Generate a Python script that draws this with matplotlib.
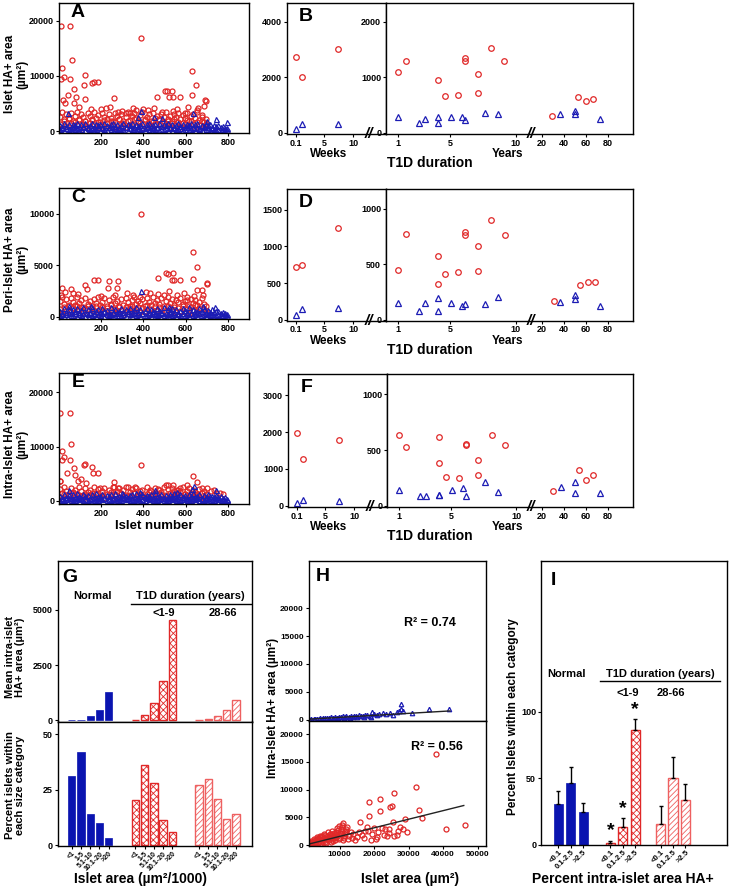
import numpy as np
import matplotlib
matplotlib.use("Agg")
import matplotlib.pyplot as plt
from matplotlib.lines import Line2D

plt.rcParams['font.family'] = ['Liberation Sans', 'DejaVu Sans']
plt.rcParams['font.weight'] = 'bold'
plt.rcParams['axes.linewidth'] = 1.0
plt.rcParams['hatch.linewidth'] = 0.6

RED = '#e02828'
BLUE = '#1c1cb4'
BARBLUE = '#0a14b0'

# ---------------- data: islet scatter (A, C, E) ----------------
islet_grid = list(range(5, 800, 10))   # islet numbers for the dense band

a_red1 = [2600, 3400, 2100, 3000, 2400, 3300, 1900, 2800, 3500, 2200,
          3100, 2500, 1800, 3300, 2700, 2000, 3400, 2300, 2900, 1700,
          3200, 2600, 2100, 3000, 2400, 1900, 3300, 2800, 2200, 3100,
          1800, 2500, 3400, 2000, 2700, 3200, 2300, 1900, 2900, 3500,
          2100, 2600, 3000, 1800, 3300, 2400, 2800, 2000, 3100, 2500,
          3400, 2200, 2700, 1900, 3000, 2600, 3300, 2100, 2900, 2400,
          3200, 1800, 2700, 3000, 2300, 3400, 2000, 2600, 1700, 2200]
a_red2 = [1200, 600, 1800, 900, 2100, 1400, 700, 1600, 1000, 2000,
          500, 1300, 1900, 800, 1500, 2200, 1100, 600, 1700, 1300,
          900, 2000, 1400, 700, 1800, 1100, 1600, 500, 2100, 1200,
          1500, 800, 1900, 1000, 1300, 2200, 700, 1700, 1400, 600,
          2000, 1100, 1500, 900, 1800, 1300, 600, 2100, 1000, 1600,
          1200, 1900, 800, 1400, 2200, 1000, 1700, 700, 1500, 1200,
          2000, 900, 1800, 1300, 600, 1600, 1100, 1900, 800, 1300]
a_red_out_x = [10, 54, 387, 60, 13, 11, 22, 52, 73, 81, 121, 117, 157, 168, 186, 125, 260, 629, 648, 629,
               692, 696, 502, 513, 533, 522, 541, 573, 462, 41, 30, 17, 73, 97, 224, 279, 319, 335, 367, 422,
               489, 541, 597, 652, 676, 687, 150, 200, 240, 300, 350, 400, 450, 560, 610, 660]
a_red_out_y = [19000, 19000, 16800, 12800, 11500, 9400, 9850, 9400, 7550, 6200, 10100, 8300, 8750, 8800, 8800, 5800, 6050, 10900, 8300, 6450,
               5700, 5500, 7250, 7250, 7250, 6100, 6100, 6200, 6150, 6500, 5000, 5600, 5000, 4400, 4100, 3500, 3200, 3200, 3800, 3800,
               3500, 3600, 3300, 3800, 2900, 4500, 4000, 3900, 4300, 3700, 4100, 3900, 4200, 4000, 4300, 4100]
a_blue1 = [1100, 700, 1500, 900, 1300, 600, 1200, 1000, 1400, 800,
           1300, 900, 1500, 700, 1100, 1400, 600, 1200, 1000, 1300,
           800, 1400, 1100, 700, 1200, 1500, 900, 1300, 600, 1000,
           1400, 800, 1200, 1100, 1500, 700, 1300, 900, 1000, 1400,
           600, 1200, 1500, 800, 1100, 1300, 700, 1400, 900, 1200,
           1000, 1500, 800, 1300, 600, 1100, 1400, 900, 1200, 700,
           1300, 1000, 1500, 800, 1200, 1400, 600, 1100, 900, 1300,
           1000, 1200, 800, 1100, 900, 1000, 700, 900, 600, 500]
a_blue2 = [300, 500, 150, 600, 400, 250, 700, 350, 550, 100,
           450, 650, 200, 500, 300, 600, 150, 400, 700, 250,
           550, 350, 100, 650, 450, 200, 500, 300, 600, 400,
           150, 700, 250, 550, 350, 450, 100, 600, 300, 500,
           200, 650, 400, 150, 550, 300, 700, 250, 450, 350,
           600, 100, 500, 200, 650, 400, 300, 550, 150, 450,
           700, 250, 350, 600, 200, 500, 400, 100, 650, 300,
           450, 200, 550, 350, 250, 400, 150, 300, 200, 100]
a_blue_out_x = [44, 390, 451, 636, 744, 795, 700, 375, 490]
a_blue_out_y = [3200, 3600, 2600, 3300, 2200, 1600, 1900, 2500, 2300]

c_red1 = [1500, 1900, 1200, 1700, 1000, 1800, 1400, 1100, 1900, 1300,
          1600, 900, 1800, 1200, 1500, 1000, 1700, 1300, 1900, 1100,
          1400, 1800, 1000, 1600, 1200, 1900, 1300, 1500, 900, 1700,
          1100, 1800, 1400, 1000, 1600, 1900, 1200, 1500, 1300, 1700,
          1000, 1800, 1400, 1100, 1900, 1300, 1600, 1200, 1800, 1000,
          1500, 1900, 1300, 1700, 1100, 1600, 1400, 1800, 1200, 1500,
          1900, 1000, 1700, 1300, 1600, 1100, 1400, 1800, 1200, 1000]
c_red2 = [700, 400, 950, 600, 1100, 500, 850, 300, 1000, 650,
          900, 450, 750, 1050, 350, 800, 550, 1000, 400, 700,
          950, 500, 850, 300, 1100, 600, 750, 450, 1000, 650,
          350, 900, 550, 800, 1050, 400, 700, 950, 500, 850,
          600, 1100, 300, 750, 450, 1000, 650, 900, 350, 800,
          550, 1050, 400, 700, 950, 500, 850, 600, 1000, 450,
          750, 300, 900, 650, 1100, 550, 800, 400, 700, 500]
c_red_out_x = [390, 633, 652, 633, 467, 505, 517, 541, 533, 544, 573, 184, 165, 235, 232, 279, 275, 263, 125, 132,
               13, 57, 65, 10, 652, 676, 700, 700, 684, 430, 382, 557, 605, 495, 30, 90, 200, 320, 350, 410,
               470, 520, 590, 640]
c_red_out_y = [10000, 6300, 4820, 3700, 3800, 4200, 4150, 4200, 3550, 3550, 3550, 3550, 3550, 3500, 2750, 3500, 2750, 2150, 3050, 2650,
               2750, 2650, 2300, 2100, 2600, 2600, 3300, 3200, 2100, 2350, 1950, 2100, 1600, 2100, 2400, 2200, 2000, 2300, 2100, 2400,
               2200, 2500, 2300, 2000]
c_blue1 = [600, 400, 850, 500, 750, 350, 700, 550, 800, 450,
           650, 900, 400, 700, 500, 850, 350, 600, 750, 450,
           800, 550, 650, 400, 900, 500, 700, 350, 600, 850,
           450, 750, 550, 800, 400, 650, 900, 500, 700, 350,
           600, 850, 450, 750, 550, 400, 800, 650, 500, 900,
           350, 700, 600, 850, 450, 750, 400, 550, 800, 650,
           500, 900, 350, 700, 600, 450, 850, 550, 750, 400,
           650, 500, 700, 450, 600, 550, 400, 500, 350, 300]
c_blue2 = [150, 300, 80, 250, 350, 120, 200, 400, 60, 280,
           180, 330, 100, 220, 380, 140, 260, 50, 310, 190,
           360, 90, 240, 130, 290, 400, 70, 210, 340, 160,
           270, 110, 390, 230, 60, 320, 170, 250, 100, 370,
           200, 140, 300, 80, 350, 220, 120, 280, 400, 180,
           60, 260, 330, 150, 240, 90, 310, 200, 370, 130,
           280, 50, 350, 170, 230, 110, 320, 190, 260, 80,
           300, 140, 220, 100, 180, 250, 120, 200, 90, 60]
c_blue_out_x = [390, 152, 684, 49, 520, 740]
c_blue_out_y = [2500, 1000, 1050, 1000, 900, 950]

e_red1 = [2200, 1500, 2600, 1800, 1200, 2400, 1600, 2100, 1300, 2500,
          1900, 1100, 2300, 1700, 2000, 1400, 2600, 1500, 2200, 1000,
          1800, 2400, 1300, 2100, 1600, 2500, 1200, 1900, 2300, 1400,
          2000, 1100, 2600, 1700, 2200, 1500, 2400, 1300, 1800, 2100,
          1000, 2500, 1600, 1900, 1200, 2300, 1400, 2000, 1700, 2600,
          1100, 2200, 1500, 2400, 1800, 1300, 2100, 1600, 2500, 1200,
          1900, 2300, 1400, 2000, 1700, 1100, 2200, 1500, 1800, 1300]
e_red2 = [800, 400, 1200, 600, 1000, 300, 1400, 700, 500, 1100,
          900, 200, 1300, 650, 1050, 450, 850, 1250, 350, 750,
          1150, 550, 950, 250, 1350, 600, 1000, 400, 800, 1200,
          500, 900, 300, 1100, 700, 1400, 450, 850, 1050, 250,
          650, 1250, 550, 950, 350, 1150, 750, 200, 1300, 600,
          1000, 400, 800, 1200, 500, 900, 300, 1100, 700, 1350,
          450, 850, 1050, 250, 650, 1250, 550, 950, 350, 750]
e_red_out_x = [5, 54, 12, 24, 16, 59, 51, 70, 38, 76, 125, 120, 157, 163, 187, 105, 129, 260, 260, 387,
               633, 652, 505, 517, 541, 573, 319, 359, 279, 467, 700, 764, 4, 7, 89, 192, 605, 676, 732, 720,
               745, 778, 430, 560]
e_red_out_y = [16200, 16200, 9250, 8100, 7600, 10400, 7500, 6000, 5100, 4800, 6800, 6600, 6300, 5100, 5100, 4000, 3250, 3550, 2650, 6700,
               4500, 3450, 2950, 2950, 2950, 2450, 2650, 2650, 2300, 2200, 2450, 1550, 3700, 3600, 3600, 2300, 3000, 2300, 2000, 1800,
               1500, 1300, 2000, 2100]
e_blue1 = [900, 600, 1300, 800, 1100, 500, 1200, 700, 1400, 1000,
           600, 1300, 900, 1100, 500, 1200, 800, 1400, 700, 1000,
           1300, 600, 1100, 900, 1200, 500, 1400, 800, 1000, 700,
           1300, 900, 600, 1100, 1200, 800, 1400, 500, 1000, 1300,
           700, 1100, 900, 1200, 600, 1400, 800, 1000, 1300, 500,
           1100, 700, 1200, 900, 1400, 600, 1000, 1300, 800, 1100,
           500, 1200, 900, 1400, 700, 1000, 1300, 600, 1100, 800,
           1200, 900, 1000, 700, 1100, 800, 900, 600, 700, 400]
e_blue2 = [200, 450, 100, 350, 550, 250, 400, 150, 500, 300,
           600, 200, 450, 100, 350, 550, 250, 400, 150, 500,
           300, 600, 200, 450, 100, 350, 550, 250, 400, 150,
           500, 300, 600, 200, 450, 100, 350, 550, 250, 400,
           150, 500, 300, 600, 200, 450, 100, 350, 550, 250,
           400, 150, 500, 300, 600, 200, 450, 100, 350, 550,
           250, 400, 150, 500, 300, 600, 200, 450, 100, 350,
           550, 250, 400, 150, 500, 300, 200, 350, 150, 100]
e_blue_out_x = [46, 382, 456, 640, 745, 630, 300, 560]
e_blue_out_y = [2000, 1700, 2000, 2750, 2000, 2200, 1500, 1600]

# ---------------- data: T1D duration (B, D, F) ----------------
wk_red_x = [0.15, 1.1, 7.3]
wk_blue_x = [0.1, 1.1, 7.3]
b_wk_red = [2716, 2014, 3032]
b_wk_blue = [135, 305, 305]
d_wk_red = [718, 741, 1250]
d_wk_blue = [64, 150, 159]
f_wk_red = [1982, 1261, 1784]
f_wk_blue = [72, 162, 135]

yr_red_x = [1.0, 1.6, 4.1, 4.6, 5.6, 6.14, 6.14, 7.1, 7.1, 8.15, 9.15, 29.6, 53.3, 60.3, 66.4]
b_yr_red = [1090, 1294, 945, 668, 680, 1343, 1300, 1065, 711, 1535, 1300, 301, 644, 572, 608]
d_yr_red = [452, 774, 572, 413, 431, 789, 765, 663, 443, 900, 762, 172, 319, 340, 340]
f_yr_red = [638, 524, 614, 254, 251, 557, 545, 407, 272, 638, 542, 135, 323, 234, 272]
d_yr_red_x = [1.0, 1.6, 4.1, 4.6, 5.6, 6.14, 6.14, 7.13, 7.13, 8.15, 9.17, 30.9, 54.5, 62.0, 68.4]
d_yr_red_extra = [328]   # second point at 4.1 years in D
f_yr_red_extra = [380]   # second point at 4.1 years in F

yr_blue_x = [1.0, 2.6, 3.1, 4.1, 4.1, 5.1, 5.93, 6.14, 7.64, 8.63, 36.9, 50.0, 50.0, 73.0]
b_yr_blue = [289, 170, 242, 289, 175, 289, 283, 229, 350, 332, 332, 392, 332, 242]
d_yr_blue = [157, 81, 151, 196, 81, 157, 127, 142, 145, 211, 160, 226, 187, 127]
f_yr_blue = [138, 90, 90, 99, 99, 138, 159, 90, 210, 123, 171, 210, 117, 117]

# ---------------- data: G bars ----------------
size_cats = ['<1', '1-5', '5.1-10', '10.1-20', '>20']
g_mean_normal = [10, 30, 180, 450, 1270]
g_mean_short = [30, 250, 780, 1790, 4540]
g_mean_long = [10, 70, 180, 480, 920]
g_pct_normal = [31.2, 42.2, 14.0, 10.2, 3.4]
g_pct_short = [20.3, 36.2, 28.2, 11.4, 6.1]
g_pct_long = [27.0, 30.0, 21.0, 12.0, 14.0]

# ---------------- data: H scatter ----------------
h_norm_x = [1200, 1800, 2500, 3000, 3600, 4200, 4800, 5300, 5900, 6400, 7000, 7600, 8100, 8700, 9200, 9800,
            10300, 10900, 11500, 12000, 12600, 13200, 13800, 14300, 14900, 15500, 16100, 16800, 17400, 18000,
            18700, 19400, 20100, 20800, 21500, 22600, 23500, 24700, 25600, 26600, 27200, 27800, 27900, 28300,
            31000, 35800, 41600, 1500, 2800, 4000, 5600, 6800, 8400, 9500, 11200, 13000, 15000, 17000, 19000]
h_norm_y = [60, 120, 100, 200, 150, 250, 180, 300, 220, 350, 280, 400, 300, 450, 380, 520,
            420, 600, 480, 650, 520, 700, 560, 750, 600, 830, 650, 700, 800, 900,
            750, 1300, 950, 850, 1000, 1250, 1100, 1250, 900, 1300, 1600, 2000, 2800, 1500,
            1250, 1850, 1900, 20, 50, 90, 120, 160, 200, 240, 280, 330, 400, 450, 500]
h_norm_fit = (0.036, 60)        # slope, intercept
h_norm_fit_range = (1000, 42000)

h_t1d_x = [800, 1200, 1500, 1800, 2200, 2500, 2800, 3100, 3400, 3700, 4000, 4300, 4600, 4900, 5200, 5500,
           5800, 6100, 6400, 6700, 7000, 7300, 7600, 7900, 8200, 8500, 8800, 9100, 9400, 9700, 10000, 10200,
           10500, 10700, 10900, 11200, 11500, 11800, 12100, 12400, 12800, 13200, 13600, 14000, 14500, 15000,
           15500, 16000, 16500, 17000, 17500, 18000, 18300, 18600, 18600, 19000, 19500, 20000, 20500, 20800,
           21000, 21800, 21800, 22200, 22800, 23300, 23800, 24300, 24300, 24600, 25300, 25500, 25800, 25800,
           26600, 26900, 27500, 28400, 29000, 29600, 32100, 32900, 33900, 37900, 40800, 46400,
           1000, 1400, 1700, 2000, 2300, 2600, 2900, 3200, 3500, 3800, 4100, 4400, 4700, 5000, 5300, 5600,
           5900, 6200, 6500, 6800, 7100, 7400, 7700, 8000, 8300, 8600, 8900, 9200, 9500, 9800, 10100, 10400,
           10600, 10800, 11100, 11400, 11700, 12000]
h_t1d_y = [200, 500, 150, 800, 400, 1100, 300, 700, 1400, 500, 1000, 1700, 300, 800, 1300, 2000,
           600, 1100, 1600, 2300, 900, 1400, 2000, 2600, 700, 1200, 1800, 2400, 3000, 1000, 1600, 2200,
           2900, 3600, 3900, 1300, 2000, 2600, 3300, 1000, 1700, 2400, 1200, 2000, 900, 1500,
           2300, 4100, 1800, 1200, 2600, 3200, 2450, 7750, 5200, 900, 2000, 3000, 1050, 1500,
           2300, 8250, 6200, 3100, 1800, 2900, 1650, 2900, 2150, 6850, 7000, 4100, 9350, 1650,
           1850, 2600, 3300, 2850, 4700, 2300, 10550, 6400, 4900, 16350, 2850, 3650,
           100, 300, 250, 600, 200, 700, 900, 350, 1000, 1200, 600, 1400, 900, 1600, 500, 1200,
           1800, 400, 1000, 1500, 1900, 600, 1100, 1700, 2100, 900, 1400, 2000, 2700, 3400, 1200, 1900,
           2500, 3200, 900, 1700, 2300, 2900]
h_t1d_fit = (0.155, 0)
h_t1d_fit_range = (1000, 46000)

# ---------------- data: I bars ----------------
ha_cats = ['<0.1', '0.1-2.5', '>2.5']
i_normal = [30.5, 46.5, 24.5]
i_normal_err = [10, 12, 7]
i_short = [1.5, 13.5, 86]
i_short_err = [1.7, 6.7, 8.3]
i_long = [16, 50, 33.5]
i_long_err = [13, 16, 12.5]

# ---------------- layout helpers ----------------
W, H = 729, 892
fig = plt.figure(figsize=(W / 100, H / 100), dpi=100)


def box(l, t, r, b):
    return fig.add_axes([l / W, 1 - b / H, (r - l) / W, (b - t) / H])


def ftext(x, y, s, **kw):
    kw.setdefault('ha', 'center')
    kw.setdefault('va', 'center')
    fig.text(x / W, 1 - y / H, s, **kw)


def fline(x0, x1, y):
    fig.add_artist(Line2D([x0 / W, x1 / W], [1 - y / H, 1 - y / H], color='black', lw=1.0))


def style(ax, size=6.5):
    ax.tick_params(labelsize=size, length=2, width=0.8, pad=1.5)


def circles(ax, x, y, ms=3.6):
    ax.plot(x, y, 'o', mfc='none', mec=RED, ms=ms, mew=0.9, ls='none')


def triangles(ax, x, y, ms=3.6):
    ax.plot(x, y, '^', mfc='none', mec=BLUE, ms=ms, mew=0.9, ls='none')


# years axis: broken linear scale (1-10 wide, 20-80 compressed)
VB = [-10, 11.18, 20, 200]
UB = [11.7 + 13.1 * (-11), 145.06, 155.7, 155.7 + 1.1 * 180]


def fwd(v):
    return np.interp(v, VB, UB)


def inv(u):
    return np.interp(u, UB, VB)


def islet_panel(top, bot, reds, blues, red_out, blue_out, ylim, yticks, letter, ylabel):
    ax = box(59, top, 249, bot)
    n = len(reds[0])
    for r in reds:
        circles(ax, islet_grid[:n], r)
    circles(ax, red_out[0], red_out[1])
    for b in blues:
        triangles(ax, islet_grid, b)
    triangles(ax, blue_out[0], blue_out[1])
    ax.set_xlim(0, 900)
    ax.set_ylim(*ylim)
    ax.set_xticks([200, 400, 600, 800])
    ax.set_yticks(yticks)
    style(ax)
    ax.text(0.1, 0.93, letter, transform=ax.transAxes, fontsize=14, ha='center', va='center')
    ftext(154, bot + 22, 'Islet number', fontsize=9.5)
    ftext(16, (top + bot) / 2 + 6, ylabel, fontsize=8.5, rotation=90, linespacing=1.1)
    return ax


def duration_panel(top, bot, wk, yr, wk_ylim, wk_ticks, yr_ylim, yr_ticks, letter, off=0):
    axw = box(287 + off, top, 386 + off, bot)
    circles(axw, wk_red_x, wk[0], ms=4)
    triangles(axw, wk_blue_x, wk[1], ms=4)
    axw.set_xlim(-1.46, 15.7)
    axw.set_ylim(*wk_ylim)
    axw.set_xticks([0.1, 5, 10])
    axw.set_xticklabels(['0.1', '5', '10'])
    axw.set_yticks(wk_ticks)
    style(axw)
    axw.text(0.19, 0.9, letter, transform=axw.transAxes, fontsize=14, ha='center', va='center')

    axy = box(386 + off, top, 633, bot)
    axy.set_xscale('function', functions=(fwd, inv))
    circles(axy, yr[0], yr[1], ms=4)
    if len(yr) > 4:
        circles(axy, [4.1], yr[4], ms=4)
    triangles(axy, yr_blue_x, yr[2], ms=4)
    axy.set_xlim(0.107, 103)
    axy.set_ylim(*yr_ylim)
    axy.set_xticks([1, 5, 10, 20, 40, 60, 80])
    axy.set_xticklabels(['1', '5', '10', '20', '40', '60', '80'])
    axy.xaxis.set_minor_locator(matplotlib.ticker.NullLocator())
    axy.set_yticks(yr_ticks)
    style(axy)

    ftext(369 + off, bot, '//', fontsize=11, style='italic')
    ftext(531, bot, '//', fontsize=11, style='italic')
    ftext(329, bot + 20, 'Weeks', fontsize=8.5)
    ftext(507, bot + 20, 'Years', fontsize=8.5)
    ftext(430, bot + 29, 'T1D duration', fontsize=10)


# ---------------- A, C, E ----------------
islet_panel(3, 133, [a_red1, a_red2], [a_blue1, a_blue2], (a_red_out_x, a_red_out_y),
            (a_blue_out_x, a_blue_out_y), (-360, 23200), [0, 10000, 20000], 'A',
            'Islet HA+ area\n(µm²)')
islet_panel(188, 319, [c_red1, c_red2], [c_blue1, c_blue2], (c_red_out_x, c_red_out_y),
            (c_blue_out_x, c_blue_out_y), (-223, 12500), [0, 5000, 10000], 'C',
            'Peri-Islet HA+ area\n(µm²)')
islet_panel(373, 504, [e_red1, e_red2], [e_blue1, e_blue2], (e_red_out_x, e_red_out_y),
            (e_blue_out_x, e_blue_out_y), (-552, 23500), [0, 10000, 20000], 'E',
            'Intra-Islet HA+ area\n(µm²)')

# ---------------- B, D, F ----------------
duration_panel(3, 134, (b_wk_red, b_wk_blue), (yr_red_x, b_yr_red, b_yr_blue, None),
               (-47, 4680), [0, 2000, 4000], (-23, 2340), [0, 1000, 2000], 'B')
duration_panel(189, 320.5, (d_wk_red, d_wk_blue), (d_yr_red_x, d_yr_red, d_yr_blue, None, d_yr_red_extra),
               (-7, 1781), [0, 500, 1000, 1500], (-5, 1180), [0, 500, 1000], 'D')
duration_panel(374, 507, (f_wk_red, f_wk_blue), (yr_red_x, f_yr_red, f_yr_blue, None, f_yr_red_extra),
               (-35, 3585), [0, 1000, 2000, 3000], (-12, 1183), [0, 500, 1000], 'F', off=1)

# ---------------- G ----------------
pos_n = np.arange(5)
pos_s = pos_n + 6.9
pos_l = pos_n + 13.8
g_top = box(57.5, 561, 252, 721.5)
g_bot = box(57.5, 721.5, 252, 846)
for ax, vals in ((g_top, (g_mean_normal, g_mean_short, g_mean_long)),
                 (g_bot, (g_pct_normal, g_pct_short, g_pct_long))):
    ax.bar(pos_n, vals[0], width=0.8, color=BARBLUE, edgecolor=BARBLUE, lw=0.5)
    ax.bar(pos_s, vals[1], width=0.8, color='white', edgecolor=RED, hatch='xxxxx', lw=1.0)
    ax.bar(pos_l, vals[2], width=0.8, color='white', edgecolor='#ee6060', hatch='//////', lw=1.0)
    ax.set_xlim(-1.55, 19.55)
    style(ax)
g_top.set_ylim(-54, 7216)
g_top.set_yticks([0, 2500, 5000])
g_top.set_xticks([])
g_bot.set_ylim(-0.3, 55.8)
g_bot.set_yticks([0, 25, 50])
g_bot.set_xticks(list(pos_n) + list(pos_s) + list(pos_l))
g_bot.set_xticklabels(size_cats * 3, rotation=45, ha='right', rotation_mode='anchor', fontsize=5)
g_bot.tick_params(axis='x', pad=1)
g_top.text(0.065, 0.9, 'G', transform=g_top.transAxes, fontsize=14, ha='center', va='center')
ftext(93, 596, 'Normal', fontsize=8)
ftext(190, 596, 'T1D duration (years)', fontsize=8)
fline(131, 251, 603.5)
ftext(164, 613.5, '<1-9', fontsize=8)
ftext(223, 613.5, '28-66', fontsize=8)
ftext(15, 657, 'Mean intra-islet\nHA+ area (µm²)', fontsize=8, rotation=90, linespacing=1.1)
ftext(15, 785, 'Percent islets within\neach size category', fontsize=8, rotation=90, linespacing=1.1)
ftext(141, 879, 'Islet area (µm²/1000)', fontsize=10)

# ---------------- H ----------------
h_top = box(308.5, 561, 485.5, 720.7)
h_bot = box(308.5, 720.7, 485.5, 845.7)
triangles(h_top, h_norm_x, h_norm_y, ms=3.2)
fx = np.array(h_norm_fit_range)
h_top.plot(fx, h_norm_fit[0] * fx + h_norm_fit[1], color='#222222', lw=1.0)
circles(h_bot, h_t1d_x, h_t1d_y, ms=3.6)
fx = np.array(h_t1d_fit_range)
h_bot.plot(fx, h_t1d_fit[0] * fx + h_t1d_fit[1], color='#222222', lw=1.0)
for ax in (h_top, h_bot):
    ax.set_xlim(1000, 52300)
    ax.set_xticks([10000, 20000, 30000, 40000, 50000])
    style(ax, 6)
h_top.set_xticklabels([])
h_top.set_ylim(-180, 28490)
h_top.set_yticks([0, 5000, 10000, 15000, 20000])
h_bot.set_ylim(-126, 22440)
h_bot.set_yticks([0, 5000, 10000, 15000, 20000])
h_top.text(0.08, 0.9, 'H', transform=h_top.transAxes, fontsize=14, ha='center', va='center')
ftext(430, 623, 'R² = 0.74', fontsize=9)
ftext(437, 747, 'R² = 0.56', fontsize=9)
ftext(273, 708, 'Intra-Islet HA+ area (µm²)', fontsize=8.5, rotation=90)
ftext(410, 879, 'Islet area (µm²)', fontsize=10)

# ---------------- I ----------------
ax_i = box(541, 561, 727, 845)
ipos_n = np.arange(3)
ipos_s = ipos_n + 4.2
ipos_l = ipos_n + 8.25
ax_i.bar(ipos_n, i_normal, width=0.75, color=BARBLUE, edgecolor=BARBLUE, lw=0.5,
         yerr=[[0] * 3, i_normal_err], error_kw=dict(ecolor='black', elinewidth=1, capsize=1.5))
ax_i.bar(ipos_s, i_short, width=0.75, color='white', edgecolor=RED, hatch='xxxxx', lw=1.0,
         yerr=[[0] * 3, i_short_err], error_kw=dict(ecolor='black', elinewidth=1, capsize=1.5))
ax_i.bar(ipos_l, i_long, width=0.75, color='white', edgecolor='#ee6060', hatch='//////', lw=1.0,
         yerr=[[0] * 3, i_long_err], error_kw=dict(ecolor='black', elinewidth=1, capsize=1.5))
for p, v, e in zip(ipos_s, i_short, i_short_err):
    ax_i.text(p, v + e + 1, '*', fontsize=14, ha='center', va='bottom')
ax_i.set_xlim(-1.4, 13.6)
ax_i.set_ylim(0, 213)
ax_i.set_yticks([0, 50, 100])
ax_i.set_xticks(list(ipos_n) + list(ipos_s) + list(ipos_l))
ax_i.set_xticklabels(ha_cats * 3, rotation=45, ha='right', rotation_mode='anchor', fontsize=5.5)
style(ax_i)
ax_i.tick_params(axis='x', labelsize=5.5, pad=1)
ax_i.text(0.065, 0.93, 'I', transform=ax_i.transAxes, fontsize=14, ha='center', va='center')
ftext(567, 674, 'Normal', fontsize=8)
ftext(660, 674, 'T1D duration (years)', fontsize=8)
fline(600, 720, 681)
ftext(628, 693, '<1-9', fontsize=8)
ftext(671, 693, '28-66', fontsize=8)
ftext(513, 717, 'Percent Islets within each category', fontsize=8.5, rotation=90)
ftext(623, 879, 'Percent intra-islet area HA+', fontsize=10)

fig.savefig('out.png', dpi=100)
